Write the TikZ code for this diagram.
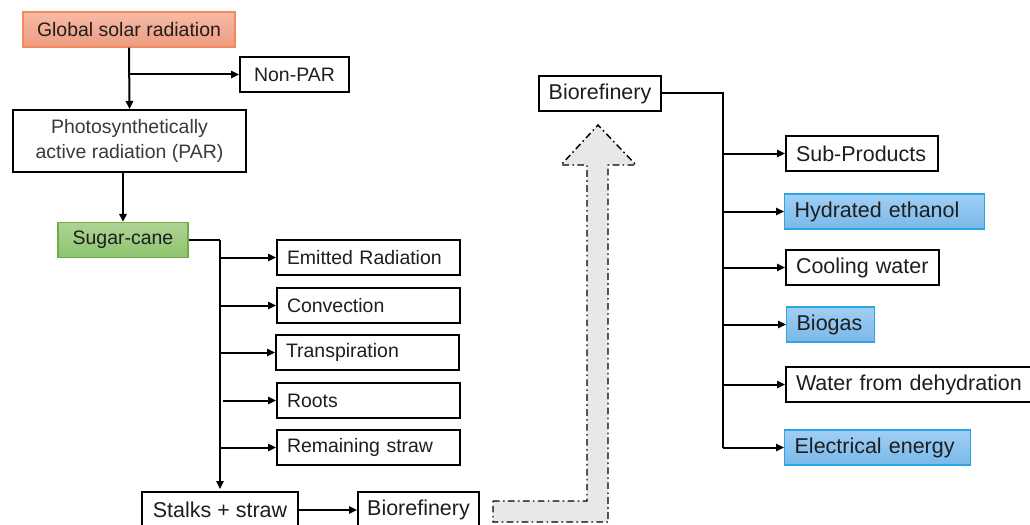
\documentclass[tikz,border=0pt]{standalone}
\usepackage{fontspec}
\setmainfont{Liberation Sans}
\usetikzlibrary{arrows.meta}
\definecolor{txt}{HTML}{1E1E1E}
\definecolor{partxt}{HTML}{3A3A3A}
\definecolor{orangeB}{HTML}{F08A5A}
\definecolor{orangeT}{HTML}{F6BAA4}
\definecolor{orangeD}{HTML}{EE9C80}
\definecolor{greenB}{HTML}{70AD47}
\definecolor{greenT}{HTML}{AED495}
\definecolor{greenD}{HTML}{8CC46E}
\definecolor{blueB}{HTML}{2CA5E0}
\definecolor{blueT}{HTML}{A0CFF5}
\definecolor{blueD}{HTML}{7AB8E8}
\definecolor{grayF}{HTML}{E8E8E8}
\tikzset{
  x=0.75pt, y=-0.75pt,
  lfont/.style={font=\fontsize{14.6}{18.75}\selectfont, text=txt},
  rfont/.style={font=\fontsize{16.1}{19}\selectfont, text=txt},
  box/.style={draw=black, line width=1.5pt, rectangle, inner xsep=0pt, inner ysep=0pt, minimum height=26.25pt},
  lbox/.style={box, lfont, anchor=west, text width=#1*0.75pt-15pt, minimum width=#1*0.75pt, align=left},
  rbox/.style={box, rfont, anchor=west, text width=#1*0.75pt-15pt, minimum width=#1*0.75pt, align=left},
  cbox/.style={box, align=center, minimum width=#1*0.75pt},
  orangebox/.style={draw=orangeB, line width=1pt, top color=orangeT, bottom color=orangeD},
  greenbox/.style={draw=greenB, line width=1pt, top color=greenT, bottom color=greenD},
  bluebox/.style={draw=blueB, line width=1pt, top color=blueT, bottom color=blueD},
  conn/.style={draw=black, line width=1.5pt},
  arr/.style={conn, -{Triangle[length=6pt,width=5.5pt]}},
}
\begin{document}
\begin{tikzpicture}
\clip (0,0) rectangle (1030,524);
\fill[white] (0,0) rectangle (1030,524);

% left column
\node[cbox=212, lfont, orangebox, minimum height=26.25pt] (gsr) at (129,29.5) {Global solar radiation};
\node[cbox=109, lfont] (nonpar) at (294.5,74.5) {Non-PAR};
\node[cbox=233, lfont, minimum height=46.5pt, text=partxt] (par) at (129.5,141) {Photosynthetically\\active radiation (PAR)};
\node[cbox=130, lfont, greenbox] (sugar) at (123,240) {Sugar-cane};

\node[lbox=183] (emit) at (276,257.5) {Emitted Radiation};
\node[lbox=183] (conv) at (276,305.5) {Convection};
\node[lbox=183] (trans) at (275,352.5) {Transpiration};
\node[lbox=183] (roots) at (276,400.5) {Roots};
\node[lbox=183] (straw) at (276,447.5) {Remaining straw};

\node[cbox=156, rfont, minimum height=27pt] (stalks) at (220,510) {Stalks + straw};
\node[cbox=121, rfont, minimum height=27pt] (bio1) at (418.5,510) {Biorefinery};

\coordinate (j1) at (220,240);

\draw[arr] (gsr.south) -- (par.north);
\draw[arr] (gsr.south |- nonpar.west) -- (nonpar.west);
\draw[arr] (sugar.north |- par.south) -- (sugar.north);
\draw[conn] (sugar.east) -- (j1);
\draw[arr] (j1) -- ([yshift=1.5pt]stalks.north);
\draw[arr] (j1 |- emit.west) -- (emit.west);
\draw[arr] (j1 |- conv.west) -- (conv.west);
\draw[arr] (j1 |- trans.west) -- (trans.west);
\draw[arr] ([xshift=2.25pt]j1 |- roots.west) -- (roots.west);
\draw[arr] (j1 |- straw.west) -- (straw.west);
\draw[arr] (stalks.east) -- (bio1.west);

% big gray arrow
\draw[fill=grayF, line width=1.1pt, dash pattern=on 5pt off 2.5pt on 1.2pt off 2.5pt]
  (493,501) -- (587,501) -- (587,165) -- (561,165) -- (598,125) -- (636,165)
  -- (608,165) -- (608,522) -- (493,522) -- cycle;

% right column
\node[cbox=122, rfont] (bio2) at (600,93.5) {Biorefinery};
\coordinate (j2) at (723,93.5);

\node[rbox=152] (sub) at (785,153.5) {Sub-Products};
\node[rbox=200, bluebox] (hyd) at (784,211.5) {Hydrated ethanol};
\node[rbox=153] (cool) at (785,267.5) {Cooling water};
\node[rbox=88, bluebox] (biogas) at (786,324.5) {Biogas};
\node[rbox=260] (water) at (785,384.5) {Water from dehydration};
\node[rbox=186, bluebox] (elec) at (784,447.5) {Electrical energy};

\draw[conn] (bio2.east) -- (j2) -- (j2 |- elec.west);
\draw[arr] (j2 |- sub.west) -- (sub.west);
\draw[arr] (j2 |- hyd.west) -- (hyd.west);
\draw[arr] (j2 |- cool.west) -- (cool.west);
\draw[arr] (j2 |- biogas.west) -- (biogas.west);
\draw[arr] (j2 |- water.west) -- (water.west);
\draw[arr] (j2 |- elec.west) -- (elec.west);
\end{tikzpicture}
\end{document}
